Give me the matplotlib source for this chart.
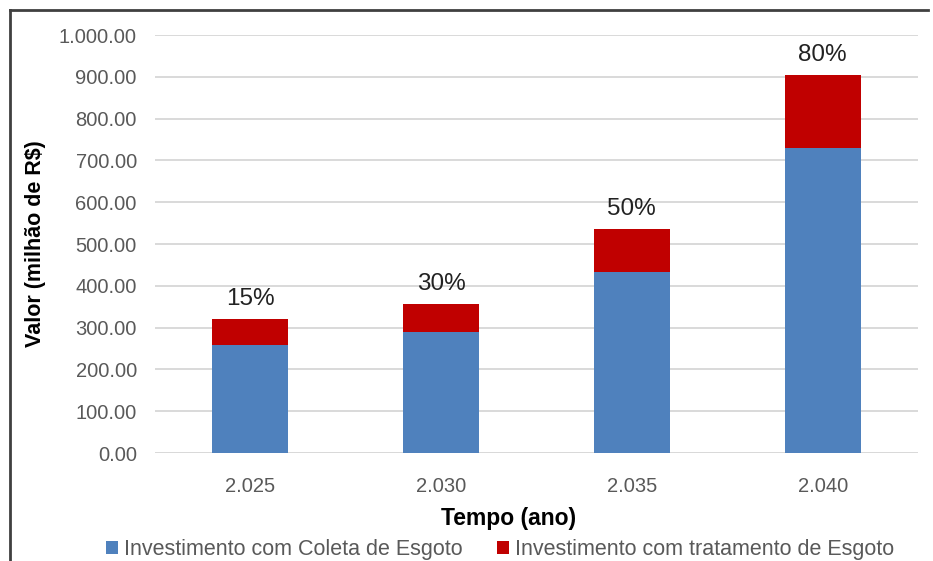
import matplotlib.pyplot as plt
from matplotlib.lines import Line2D
import numpy as np

# Data
anos = ["2.025", "2.030", "2.035", "2.040"]
coleta = [258, 290, 433, 730]
tratamento = [62, 66, 103, 174]
percentuais = ["15%", "30%", "50%", "80%"]
yticks = [0, 100, 200, 300, 400, 500, 600, 700, 800, 900, 1000]

azul = "#4f81bd"
vermelho = "#c00000"
cinza = "#595959"
fonte = ["Liberation Sans", "DejaVu Sans"]

fig = plt.figure(figsize=(9.33, 5.61), dpi=100)
ax = fig.add_axes([0.166, 0.1925, 0.818, 0.7451])

x = np.arange(len(anos))
ax.bar(x, coleta, width=0.4, color=azul, zorder=3,
       label="Investimento com Coleta de Esgoto")
ax.bar(x, tratamento, width=0.4, bottom=coleta, color=vermelho, zorder=3,
       label="Investimento com tratamento de Esgoto")

# percent labels above each stack
for i in range(len(anos)):
    total = coleta[i] + tratamento[i]
    ax.text(x[i], total + 22, percentuais[i], ha="center", va="bottom",
            fontsize=17.5, family="Liberation Sans", color="#222222")

ax.set_xlim(-0.5, 3.5)
ax.set_ylim(0, 1000)
ax.set_yticks(yticks)
ax.set_yticklabels(["{:,.2f}".format(v).replace(",", ".") for v in yticks],
                   family=fonte, fontsize=14.5, color=cinza)
ax.set_xticks(x)
ax.set_xticklabels(anos, family=fonte, fontsize=14.5, color=cinza)
ax.tick_params(axis="x", length=0, pad=17)
ax.tick_params(axis="y", length=0, pad=13)

ax.grid(axis="y", color="#d9d9d9", linewidth=1.4, zorder=0)
for s in ax.spines.values():
    s.set_visible(False)
ax.axhline(0, color="#d9d9d9", linewidth=1.4, zorder=1)

ax.set_xlabel("Tempo (ano)", fontsize=16.5, fontweight="bold", family=fonte)
ax.xaxis.set_label_coords(0.464, -0.128)
ax.set_ylabel("Valor (milhão de R$)", fontsize=15.5, fontweight="bold", family=fonte, labelpad=9)

fig.legend(loc="center", bbox_to_anchor=(0.536, 0.021), ncol=2, frameon=False,
           prop={"family": fonte, "size": 15.5}, labelcolor=cinza,
           handlelength=0.55, handleheight=0.55, handletextpad=0.3, columnspacing=1.6)

# frame around the chart (left and top visible)
fig.add_artist(Line2D([0.011, 0.011], [0.0, 0.982], color="#404040", linewidth=2, transform=fig.transFigure))
fig.add_artist(Line2D([0.011, 0.995], [0.982, 0.982], color="#404040", linewidth=2, transform=fig.transFigure))

plt.savefig("out.png", dpi=100)
